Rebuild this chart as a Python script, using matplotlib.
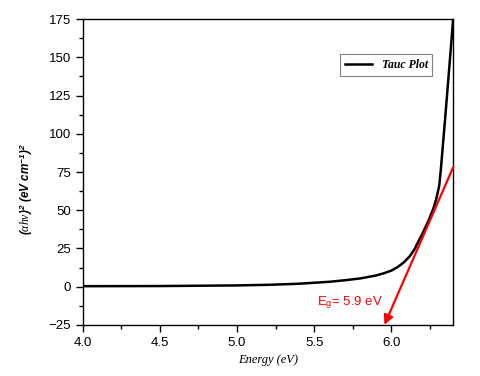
import matplotlib
matplotlib.use("Agg")
import matplotlib.pyplot as plt
from matplotlib.ticker import MultipleLocator, AutoMinorLocator, FormatStrFormatter

plt.rcParams["mathtext.fontset"] = "custom"
plt.rcParams["mathtext.rm"] = "Liberation Sans:bold:italic"
plt.rcParams["mathtext.it"] = "Liberation Serif:italic"
plt.rcParams["mathtext.bf"] = "Liberation Sans:bold:italic"

energy = [4.0, 4.5, 5.0, 5.2, 5.4, 5.6, 5.7, 5.8, 5.9, 5.95, 6.0, 6.04, 6.08, 6.12, 6.15,
          6.18, 6.21, 6.24, 6.27, 6.29, 6.31, 6.32, 6.33, 6.35, 6.37, 6.39, 6.4]
tauc = [0.3, 0.4, 0.8, 1.2, 1.9, 3.2, 4.2, 5.4, 7.3, 8.7, 10.5, 12.8, 15.8, 20.0, 24.5,
        30.5, 36.5, 43.0, 50.5, 57.0, 66.0, 76.0, 88.0, 112.0, 137.0, 162.0, 175.0]

fit_start = [6.4, 78.0]
fit_end = [5.955, -25.0]
eg_label = "E$_{\\mathregular{g}}$= 5.9 eV"

fig = plt.figure(figsize=(4.8, 3.76), dpi=100)
ax = fig.add_axes([0.172, 0.136, 0.772, 0.813])

ax.plot(energy, tauc, color="black", lw=1.8, label="Tauc Plot")
ax.annotate("", xy=(fit_end[0], fit_end[1]), xytext=(fit_start[0], fit_start[1]),
            arrowprops=dict(arrowstyle="-|>", color="red", lw=1.6, mutation_scale=14,
                            shrinkA=0, shrinkB=0))
ax.text(5.73, -10.5, eg_label, color="red", fontsize=9.5, family="Liberation Sans",
        ha="center", va="center")

ax.set_xlim(4.0, 6.4)
ax.set_ylim(-25, 175)
ax.xaxis.set_major_locator(MultipleLocator(0.5))
ax.xaxis.set_minor_locator(AutoMinorLocator(2))
ax.xaxis.set_major_formatter(FormatStrFormatter("%.1f"))
ax.yaxis.set_major_locator(MultipleLocator(25))
ax.yaxis.set_minor_locator(AutoMinorLocator(2))
ax.tick_params(which="both", direction="out", top=False, right=False, labelsize=9.5)
ax.tick_params(which="major", length=5, width=1)
ax.tick_params(which="minor", length=3, width=1)
for lab in ax.get_xticklabels() + ax.get_yticklabels():
    lab.set_family("Liberation Sans")
for s in ax.spines.values():
    s.set_linewidth(1.0)

ax.set_xlabel("Energy (eV)", family="Liberation Serif", style="italic", fontsize=9)
ax.set_ylabel("$(\\mathit{\\alpha h\\nu})^2$ (eV cm$^{-1}$)$^2$", family="Liberation Sans",
              style="italic", weight="bold", fontsize=8.5)
ax.yaxis.set_label_coords(-0.128, 0.444)

leg = ax.legend(loc="upper right", bbox_to_anchor=(0.96, 0.905), fancybox=False,
                edgecolor="gray", framealpha=1, handlelength=2.3, borderpad=0.4,
                prop=dict(family="Liberation Serif", style="italic", weight="bold", size=8.5))
leg.get_frame().set_linewidth(0.8)

fig.savefig("out.png", dpi=100)
